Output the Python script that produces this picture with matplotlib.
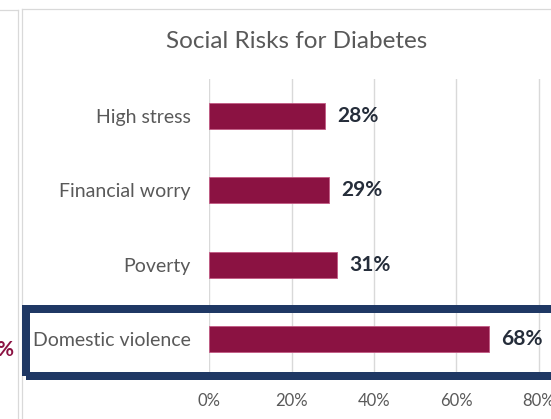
import matplotlib
matplotlib.use("Agg")
import matplotlib.pyplot as plt
from matplotlib.patches import Rectangle
from matplotlib.lines import Line2D

# Chart data
categories = ["High stress", "Financial worry", "Poverty", "Domestic violence"]
values = [28, 29, 31, 68]
xticks = [0, 20, 40, 60, 80]
xtick_labels = ["0%", "20%", "40%", "60%", "80%"]
title = "Social Risks for Diabetes"

BAR = "#8b1242"
TEXT_GRAY = "#595959"
VALUE_DARK = "#252d3a"
GRID = "#d9d9d9"
NAVY = "#1f3864"

plt.rcParams["font.family"] = ["Lato", "DejaVu Sans"]

W, H = 551, 419
fig = plt.figure(figsize=(W / 100, H / 100), dpi=100)
fig.patch.set_facecolor("white")


def fx(px):
    return px / W


def fy(py):
    return 1 - py / H


# plot area in pixel terms (x axis runs 0..100%, partly past the right edge)
x0, per20 = 209.3, 82.3
top, bottom = 79, 376
ax = fig.add_axes([fx(x0), fy(bottom), (per20 * 5) / W, (bottom - top) / H])
ax.set_xlim(0, 100)
ax.set_ylim(len(categories) - 0.5, -0.5)

ypos = list(range(len(categories)))
ax.barh(ypos, values, height=0.35, color=BAR, edgecolor="#c25a84",
        linewidth=0.6, zorder=3)

for y, v in zip(ypos, values):
    ax.annotate(f"{v}%", xy=(v, y), xytext=(9, 0), textcoords="offset points",
                ha="left", va="center", fontsize=15, fontweight="bold",
                color=VALUE_DARK)

ax.set_yticks(ypos)
ax.set_yticklabels(categories, fontsize=14, color=TEXT_GRAY)
ax.set_xticks(xticks)
ax.set_xticklabels(xtick_labels, fontsize=12, color=TEXT_GRAY)
ax.set_xticks([100], minor=True)
ax.tick_params(axis="y", length=0, pad=13.5)
ax.tick_params(axis="x", which="both", length=0, pad=12)
ax.xaxis.grid(True, which="both", color=GRID, linewidth=1, zorder=0)
ax.set_axisbelow(True)
for s in ax.spines.values():
    s.set_visible(False)

# title
fig.text(fx(297), fy(41), title, ha="center", va="center", fontsize=17.5,
         color=TEXT_GRAY)

# chart frame and neighbouring frame
lw_frame = 0.9
fig.add_artist(Line2D([fx(21.5), 1.0], [fy(9), fy(9)], transform=fig.transFigure,
                      color=GRID, linewidth=lw_frame))
fig.add_artist(Line2D([fx(21.5), fx(21.5)], [fy(9), 0], transform=fig.transFigure,
                      color=GRID, linewidth=lw_frame))
fig.add_artist(Line2D([0, fx(18)], [fy(10), fy(10)], transform=fig.transFigure,
                      color=GRID, linewidth=lw_frame))
fig.add_artist(Line2D([fx(18), fx(18)], [fy(10), 0], transform=fig.transFigure,
                      color=GRID, linewidth=lw_frame))

# value mark from the neighbouring chart
fig.text(fx(13.5), fy(350), "%", ha="right", va="center", fontsize=15,
         fontweight="bold", color=BAR)

# highlight box around the last row
fig.add_artist(Rectangle((fx(26), fy(375.5)), 1.2, (375.5 - 309) / H,
                         transform=fig.transFigure, fill=False, edgecolor=NAVY,
                         linewidth=5.76, zorder=10))

fig.savefig("out.png", dpi=100, facecolor="white")
